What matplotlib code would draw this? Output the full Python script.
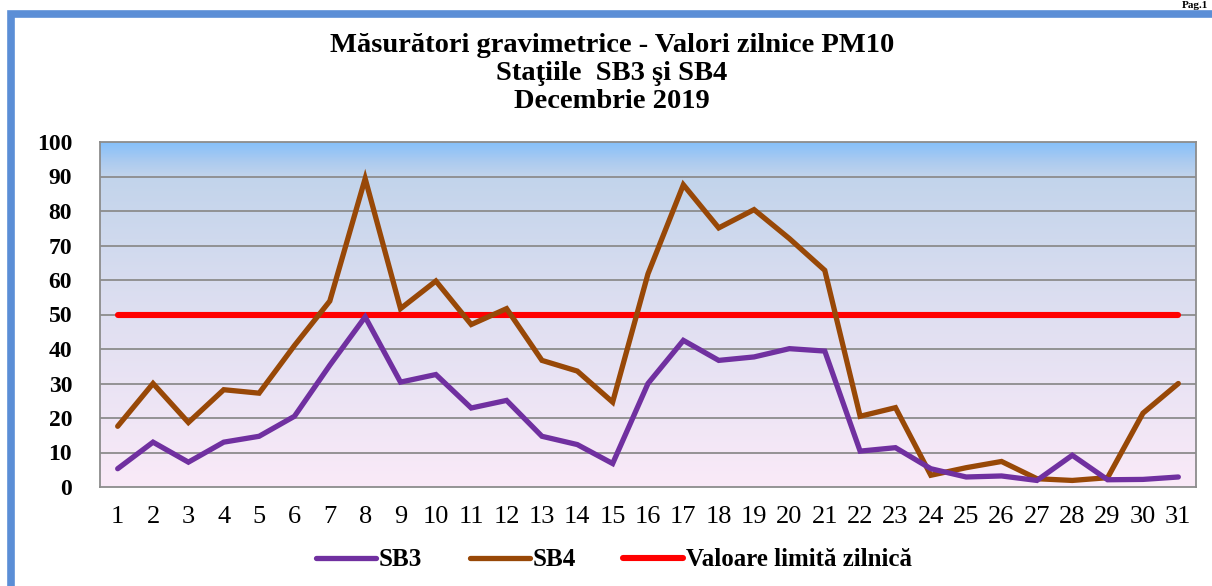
import matplotlib
matplotlib.use('Agg')
import matplotlib.pyplot as plt
import numpy as np
from matplotlib.colors import LinearSegmentedColormap
from matplotlib.patches import Rectangle

# Data (PM10 daily values, December 2019)
days = list(range(1, 32))
sb3 = [5.3, 13.0, 7.2, 13.0, 14.7, 20.5, 35.3, 49.3, 30.4, 32.6,
       22.9, 25.1, 14.7, 12.3, 6.8, 30.0, 42.5, 36.7, 37.7, 40.1,
       39.4, 10.4, 11.4, 5.3, 2.9, 3.2, 1.9, 9.2, 2.1, 2.2, 2.9]
sb4 = [17.6, 30.0, 18.7, 28.2, 27.2, 41.0, 53.9, 89.4, 51.7, 59.7,
       47.1, 51.7, 36.7, 33.6, 24.6, 61.8, 87.6, 75.1, 80.4, 72.0,
       62.8, 20.5, 23.0, 3.4, 5.6, 7.4, 2.4, 1.9, 2.7, 21.4, 30.0]
limit = [50] * 31
series_names = ['SB3', 'SB4', 'Valoare limită zilnică']
title_lines = ['Măsurători gravimetrice - Valori zilnice PM10',
               'Staţiile  SB3 şi SB4',
               'Decembrie 2019']

W, H = 1212, 586
fig = plt.figure(figsize=(W / 100, H / 100), dpi=100)
plt.rcParams['font.family'] = ['Liberation Serif', 'DejaVu Serif']

# blue document frame (left and top edges only visible)
fig.patches.append(Rectangle((10.5 / W, -0.1), 1.2, 1.1 - 13.5 / H,
                             transform=fig.transFigure, fill=False,
                             edgecolor='#5B8ED6', linewidth=5.5, zorder=0))
fig.text(1208 / W, 1 - 8.5 / H, 'Pag.1', fontsize=8, fontweight='bold',
         va='baseline', ha='right')

ax = fig.add_axes([100 / W, 1 - 487 / H, 1096 / W, 345 / H])

# gradient background
cmap = LinearSegmentedColormap.from_list('bg', [
    (0.0, '#FAEAF8'), (0.5, '#DFDFF1'), (0.9, '#C2D4EB'),
    (0.95, '#A9CAF0'), (1.0, '#86C0FA')])
grad = np.linspace(0, 1, 256).reshape(-1, 1)
ax.imshow(grad, cmap=cmap, aspect='auto', origin='lower',
          extent=[0.5, 31.5, 0, 100], zorder=0)

for y in range(10, 100, 10):
    ax.axhline(y, color='#8C8C8C', lw=1.3, zorder=1)

ax.plot(days, limit, color='#FF0000', lw=4.4, solid_capstyle='round',
        label=series_names[2], zorder=3)
ax.plot(days, sb4, color='#984807', lw=3.8, solid_joinstyle='miter',
        solid_capstyle='round', label=series_names[1], zorder=4)
ax.plot(days, sb3, color='#7030A0', lw=3.8, solid_joinstyle='miter',
        solid_capstyle='round', label=series_names[0], zorder=5)

ax.set_xlim(0.5, 31.5)
ax.set_ylim(0, 100)
ax.set_xticks(days)
ax.set_xticklabels([str(d) for d in days], fontsize=19)
ax.set_yticks(range(0, 101, 10))
ax.set_yticklabels([str(v) for v in range(0, 101, 10)], fontsize=17,
                   fontweight='bold')
ax.tick_params(axis='both', length=0)
ax.tick_params(axis='y', pad=20)
ax.tick_params(axis='x', pad=14)
for s in ax.spines.values():
    s.set_color('#8C8C8C')
    s.set_linewidth(1.3)

# title
for i, line in enumerate(title_lines):
    fig.text(612 / W, 1 - (45 + 28 * i) / H, line, fontsize=20.5,
             fontweight='bold', ha='center', va='center')

handles, labels = ax.get_legend_handles_labels()
order = [2, 1, 0]
fig.legend([handles[i] for i in order], [labels[i] for i in order],
           loc='center', bbox_to_anchor=(614 / W, 1 - 560 / H), ncol=3,
           frameon=False, prop={'size': 18, 'weight': 'bold'},
           handlelength=2.4, handletextpad=0.1, columnspacing=1.9)

fig.savefig('out.png', dpi=100)
